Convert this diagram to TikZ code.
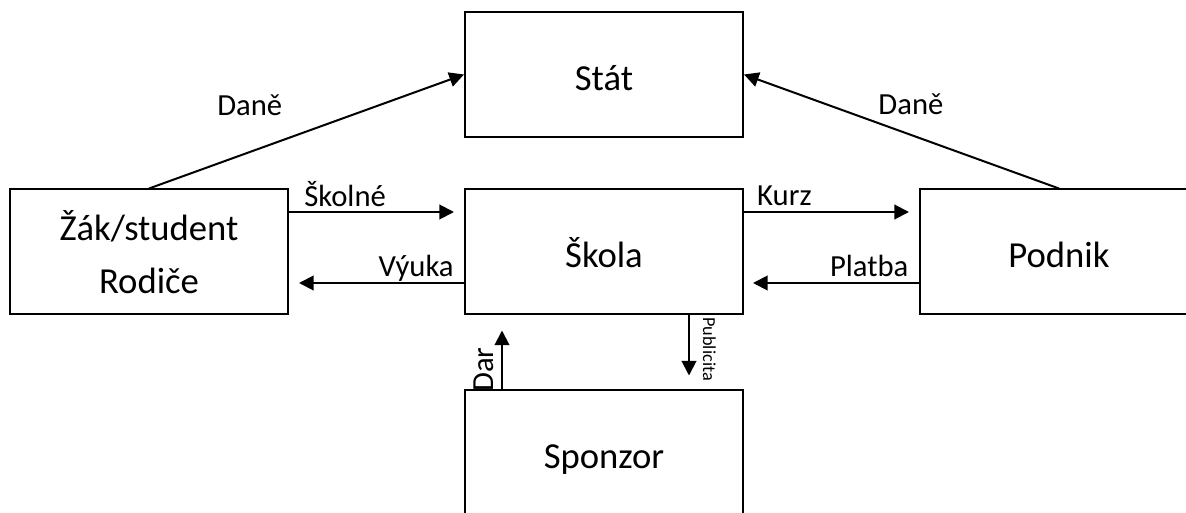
\documentclass[tikz,border=0pt]{standalone}
\usepackage{fontspec}
\setmainfont{Carlito}
\usetikzlibrary{arrows.meta}

\tikzset{
    box/.style={draw, line width=1.5pt, minimum width=208.5pt, minimum height=93.75pt,
        inner sep=0pt, align=center, font=\fontsize{27.5}{39.75}\selectfont},
    onebox/.style={box, text height=26pt, text depth=2pt},
    flow/.style={line width=1.5pt, -{Triangle[length=11pt,width=11pt]}},
    lbl/.style={anchor=base, inner sep=0pt, font=\fontsize{23}{27}\selectfont},
}

\begin{document}
\begin{tikzpicture}[x=0.75pt, y=-0.75pt]

    \useasboundingbox (0,0) rectangle (1186,513);
    \clip (0,0) rectangle (1186,513);

    \node [onebox] (stat) at (604,74.5) {Stát};
    \node [box] (zak) at (149,252) {Žák/student\\Rodiče};
    \node [onebox] (skola) at (604,252) {Škola};
    \node [onebox] (podnik) at (1059,252) {Podnik};
    \node [onebox] (sponzor) at (604,453) {Sponzor};

    \draw [flow] (zak.north) -- (stat.west)
        node [lbl, pos=.32, yshift=27.75pt] {Daně};
    \draw [flow] (podnik.north) -- (stat.east)
        node [lbl, pos=.47, yshift=15pt] {Daně};

    \draw [flow] ([yshift=30pt]zak.east) -- ([xshift=-7.5pt,yshift=30pt]skola.west)
        node [lbl, pos=.34, yshift=3.75pt] {Školné};
    \draw [flow] ([yshift=-23.25pt]skola.west) -- ([xshift=7.5pt,yshift=-23.25pt]zak.east)
        node [lbl, pos=.29, yshift=4.5pt] {Výuka};
    \draw [flow] ([yshift=30pt]skola.east) -- ([xshift=-7.5pt,yshift=30pt]podnik.west)
        node [lbl, pos=.245, yshift=4.5pt] {Kurz};
    \draw [flow] ([yshift=-23.25pt]podnik.west) -- ([xshift=6.75pt,yshift=-23.25pt]skola.east)
        node [lbl, pos=.30, yshift=4.5pt] {Platba};

    \draw [flow] ([xshift=-76.5pt]sponzor.north) -- ([xshift=-76.5pt,yshift=-11.25pt]skola.south)
        node [lbl, pos=.34, xshift=-6.75pt, rotate=90] {Dar};
    \draw [flow] ([xshift=63.75pt]skola.south) -- ([xshift=63.75pt,yshift=10.5pt]sponzor.north)
        node [lbl, pos=.56, xshift=10.5pt, rotate=-90, font=\fontsize{13.7}{16}\selectfont] {Publicita};

\end{tikzpicture}
\end{document}
